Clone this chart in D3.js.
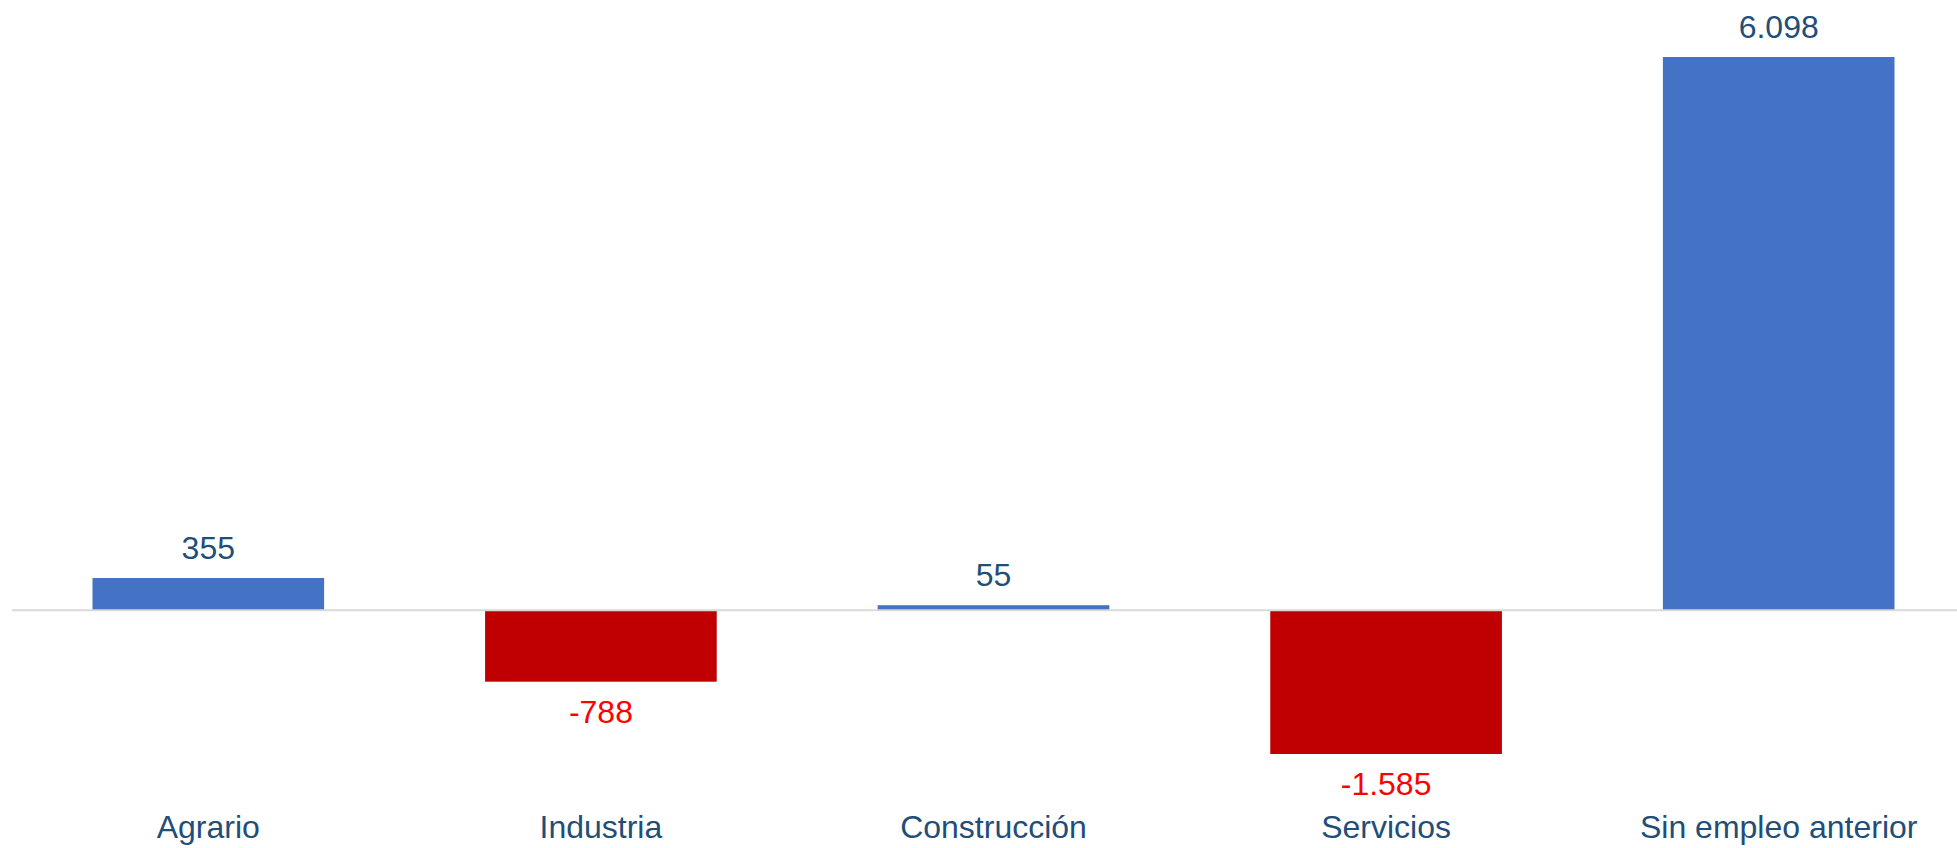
<!DOCTYPE html>
<html>
<head>
<meta charset="utf-8">
<script src="https://cdn.jsdelivr.net/npm/d3@7"></script>
<style>
  html, body { margin: 0; padding: 0; background: #fff; }
  svg { display: block; font-family: "Liberation Sans", Arial, sans-serif; }
</style>
</head>
<body>
<div id="chart"></div>
<script>
// Variación por sector
const categories = ['Agrario', 'Industria', 'Construcción', 'Servicios', 'Sin empleo anterior'];
const values = [355, -788, 55, -1585, 6098];
const valueLabels = ['355', '-788', '55', '-1.585', '6.098'];

const width = 1957,
  height = 848,
  marginLeft = 12,
  plotTop = 57,
  plotBottom = 754,
  labelY = 838;

const svg = d3.select('#chart').append('svg')
  .attr('width', width)
  .attr('height', height);

const x = d3.scaleBand()
  .domain(categories)
  .range([marginLeft, 1975])
  .paddingInner(0.41)
  .paddingOuter(0.205);

const y = d3.scaleLinear()
  .domain([d3.min(values), d3.max(values)])
  .range([plotBottom, plotTop]);

// bars
svg.append('g').selectAll('rect')
  .data(values)
  .enter()
  .append('rect')
  .attr('x', (d, i) => x(categories[i]))
  .attr('y', d => y(Math.max(0, d)))
  .attr('width', x.bandwidth())
  .attr('height', d => Math.abs(y(d) - y(0)))
  .attr('fill', d => d < 0 ? '#C00000' : '#4472C4');

// zero line
svg.append('line')
  .attr('x1', marginLeft)
  .attr('x2', width)
  .attr('y1', y(0))
  .attr('y2', y(0))
  .attr('stroke', '#D9D9D9')
  .attr('stroke-width', 2);

// value labels
svg.append('g').selectAll('text')
  .data(values)
  .enter()
  .append('text')
  .attr('x', (d, i) => x(categories[i]) + x.bandwidth() / 2)
  .attr('y', d => d < 0 ? y(d) + 41 : y(d) - 19)
  .attr('text-anchor', 'middle')
  .attr('font-size', 32)
  .attr('fill', d => d < 0 ? '#FF0000' : '#1F4E79')
  .text((d, i) => valueLabels[i]);

// category axis
const xAxis = d3.axisBottom(x).tickSize(0).tickPadding(0);
const gx = svg.append('g')
  .attr('transform', 'translate(0,' + labelY + ')')
  .call(xAxis);
gx.select('.domain').remove();
gx.selectAll('text')
  .attr('y', 0)
  .attr('dy', 0)
  .attr('font-size', 32)
  .attr('font-family', '"Liberation Sans", Arial, sans-serif')
  .attr('fill', '#1F4E79');
</script>
</body>
</html>
